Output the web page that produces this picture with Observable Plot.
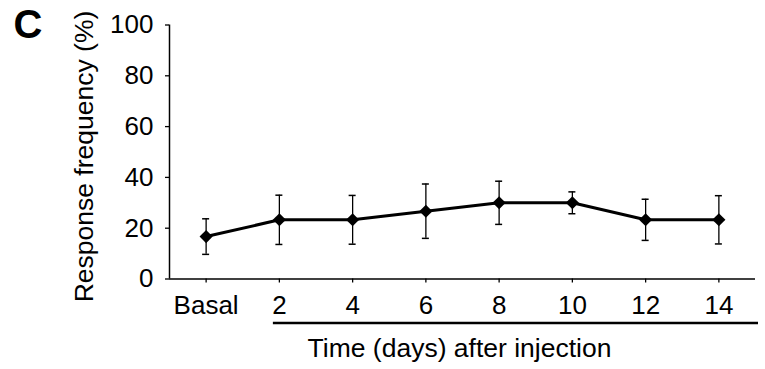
<!DOCTYPE html>
<html>
<head>
<meta charset="utf-8">
<script src="https://cdn.jsdelivr.net/npm/d3@7"></script>
<script src="https://cdn.jsdelivr.net/npm/@observablehq/plot@0.6"></script>
<style>
  html, body { margin: 0; padding: 0; background: #fff; }
</style>
</head>
<body>
<div id="chart"></div>
<script>
const categories = ["Basal", "2", "4", "6", "8", "10", "12", "14"];
const means = [16.7, 23.3, 23.3, 26.7, 30.0, 30.0, 23.3, 23.3];
const errors = [7.0, 9.7, 9.6, 10.7, 8.5, 4.3, 8.1, 9.5];
const yTicks = [0, 20, 40, 60, 80, 100];
const panelLabel = "C";
const yLabel = "Response frequency (%)";
const xLabel = "Time (days) after injection";

const data = categories.map((c, i) => ({i, c, m: means[i], lo: means[i] - errors[i], hi: means[i] + errors[i]}));
const idx = categories.map((_, i) => i);
const FONT = "'Liberation Sans', Arial, Helvetica, sans-serif";

const chart = Plot.plot({
  width: 765,
  height: 369,
  marginLeft: 169,
  marginRight: 10,
  marginTop: 24.5,
  marginBottom: 90.5,
  style: {fontFamily: FONT, fontSize: "26px", color: "#000", background: "#fff", overflow: "visible"},
  x: {type: "linear", domain: [-0.5, categories.length - 0.5]},
  y: {domain: [0, 100]},
  marks: [
    Plot.axisY({ticks: yTicks, tickSize: 4, tickPadding: 12, label: null, fontSize: 26, strokeWidth: 1.3}),
    Plot.axisX({ticks: idx, tickFormat: i => categories[i], tickSize: 4, tickPadding: 13, label: null, fontSize: 26, strokeWidth: 1.3}),
    Plot.ruleY([0], {stroke: "#000", strokeWidth: 1.5}),
    Plot.ruleX([-0.5], {y1: 0, y2: 100, stroke: "#000", strokeWidth: 1.5}),
    // underline beneath the day labels
    Plot.ruleY([0], {x1: 1, x2: categories.length - 0.5, insetLeft: -6, insetRight: -3, dy: 44, stroke: "#000", strokeWidth: 2.3}),
    // error bars
    Plot.ruleX(data, {x: "i", y1: "lo", y2: "hi", stroke: "#000", strokeWidth: 1.3}),
    Plot.ruleY(data, {y: "hi", x1: "i", x2: "i", insetLeft: -3.5, insetRight: -3.5, stroke: "#000", strokeWidth: 1.5}),
    Plot.ruleY(data, {y: "lo", x1: "i", x2: "i", insetLeft: -3.5, insetRight: -3.5, stroke: "#000", strokeWidth: 1.5}),
    Plot.line(data, {x: "i", y: "m", stroke: "#000", strokeWidth: 3}),
    Plot.dot(data, {x: "i", y: "m", symbol: "diamond2", r: 5.9, fill: "#000", stroke: "none"}),
    Plot.text([panelLabel], {frameAnchor: "top-left", dx: -141.5, dy: 0, textAnchor: "middle", lineAnchor: "middle", fontSize: 40, fontWeight: "bold", fill: "#000"}),
    Plot.text([yLabel], {frameAnchor: "left", rotate: -90, dx: -85, dy: 4.5, textAnchor: "middle", lineAnchor: "middle", fontSize: 26.5, fill: "#000"}),
    Plot.text([xLabel], {frameAnchor: "bottom", dx: -3, dy: 69.5, textAnchor: "middle", lineAnchor: "middle", fontSize: 26.5, fill: "#000"})
  ]
});
document.getElementById("chart").appendChild(chart);
</script>
</body>
</html>
